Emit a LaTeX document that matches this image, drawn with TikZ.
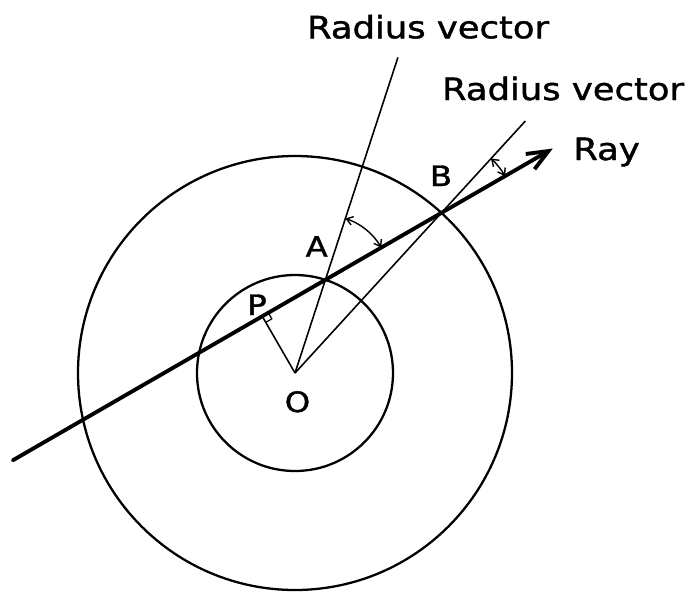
\documentclass[tikz,border=0pt]{standalone}
\usepackage{fontspec}
\newfontfamily\letterfont[FakeStretch=1.15,FakeBold=1.3]{DejaVu Sans}
\usepackage{tikz}
\usetikzlibrary{arrows.meta, calc}

\begin{document}
\begin{tikzpicture}[
    shell/.style={line width=1.3pt},
    radvec/.style={line width=0.9pt},
    anglemark/.style={line width=0.8pt, {Straight Barb[length=3.5pt,width=5pt]}-{Straight Barb[length=3.5pt,width=5pt]}},
    lbl/.style={font=\letterfont\fontsize{17.5}{20}\selectfont, inner sep=0pt},
    pt/.style={font=\letterfont\fontsize{16}{18}\selectfont, inner sep=0pt}]
  \useasboundingbox (-5.9,-4.36) rectangle (8.1,7.46);

  % Centre and points along the ray
  \coordinate (O) at (0,0);
  \coordinate (P) at (120:1.31);
  \coordinate (A) at ($(P)+(30:1.458)$);
  \coordinate (B) at ($(P)+(30:4.138)$);
  \coordinate (raystart) at ($(P)+(210:5.76)$);
  \coordinate (rayend) at ($(P)+(30:6.71)$);
  \coordinate (rvA) at ($(O)!6.64cm!(A)$);
  \coordinate (rvB) at ($(O)!6.83cm!(B)$);

  % Two spheres
  \draw[shell] (O) circle (1.96);
  \draw[shell] (O) circle (4.34);

  % Radius vectors and perpendicular OP
  \draw[radvec] (O) -- (rvA);
  \draw[radvec] (O) -- (rvB);
  \draw[radvec] (O) -- (P);
  \draw[line width=0.7pt] ($(P)+(30:0.14)$) -- ++(-60:0.14) -- ++(210:0.14);

  % The ray
  \draw[line width=2.2pt, line cap=round, -{Straight Barb[length=12pt,width=10pt]}]
       (raystart) -- (rayend);

  % Angles between ray and radius vectors
  \draw[anglemark] ($(A)+(71.9:1.29)$) arc[start angle=71.9, end angle=30, radius=1.29];
  \draw[anglemark] ($(B)+(47.6:1.47)$) arc[start angle=47.6, end angle=30, radius=1.47];

  % Labels
  \node[lbl, anchor=base west] (rvAlabel) at (0.234,6.694) {Radius vector};
  \node[lbl, anchor=base west] (rvBlabel) at (2.934,5.46) {Radius vector};
  \node[lbl, anchor=base west] (raylabel) at (5.56,4.26) {Ray};
  \node[pt, anchor=base] (Alabel) at (0.434,2.326) {A};
  \node[pt, anchor=base] (Blabel) at (2.92,3.74) {B};
  \node[pt, anchor=base] (Plabel) at (-0.76,1.16) {P};
  \node[pt, anchor=base] (Olabel) at (0.05,-0.78) {O};
\end{tikzpicture}
\end{document}
